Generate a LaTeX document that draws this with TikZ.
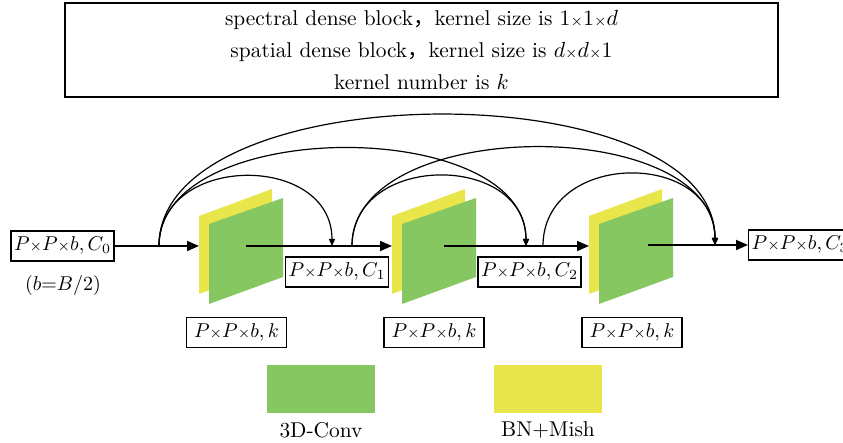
\documentclass[tikz,border=0pt]{standalone}
\usepackage{amsmath}
\usepackage{fontspec}
\newfontfamily\cjk{Noto Sans CJK SC}
\usetikzlibrary{arrows.meta, positioning}
\definecolor{convgreen}{RGB}{134,199,98}
\definecolor{bnyellow}{RGB}{233,230,75}
\newcommand{\bytimes}{{\scriptstyle\times}}

\begin{document}
\begin{tikzpicture}[x=0.5pt, y=-0.5pt, >={Triangle[length=6pt,width=5pt]},
			font=\fontsize{10.7}{12.8}\selectfont,
			sizebox/.style={draw, line width=0.7pt, inner sep=1.5pt, minimum width=50pt, minimum height=15pt, font=\fontsize{10}{12}\selectfont},
			flow/.style={->, line width=0.9pt},
			dense/.style={-{Triangle[length=3.5pt,width=3pt]}, line width=0.6pt, out=90, in=90},
			conv/.style={fill=convgreen},
			bnmish/.style={fill=bnyellow}]

		\useasboundingbox (0,0) rectangle (843,443);

		%% Nodes
		\begin{scope}
			\node (kernels) at (421.5,50) [draw, line width=0.7pt, minimum width=356.5pt, minimum height=47pt, align=center]
				{spectral dense block{\cjk ，}kernel size is $1\bytimes1\bytimes d$\\[3pt]
				spatial dense block{\cjk ，}kernel size is $d\bytimes d\bytimes1$\\[3pt]
				kernel number is $k$};
		\end{scope}

		% Blocks
		\begin{scope}
			\fill[bnmish] (199,216) -- (272,189) -- (272,267) -- (199,294) -- cycle;
			\fill[conv] (209,224) -- (283,198) -- (283,277) -- (209,304) -- cycle;
			\fill[bnmish] (392,216) -- (465,189) -- (465,267) -- (392,294) -- cycle;
			\fill[conv] (402,224) -- (476,198) -- (476,277) -- (402,304) -- cycle;
			\fill[bnmish] (589,216) -- (662,189) -- (662,267) -- (589,294) -- cycle;
			\fill[conv] (599,224) -- (673,198) -- (673,277) -- (599,304) -- cycle;

			\coordinate (b1) at (199,246);
			\coordinate (b2) at (392,246);
			\coordinate (b3) at (589,246);
			\coordinate (c1) at (246,246);
			\coordinate (c2) at (444,246);
			\coordinate (c3) at (648,245);
		\end{scope}

		% Feature maps
		\begin{scope}
			\node (in0) at (62.5,246) [sizebox] {$P\bytimes P\bytimes b, C_0$};
			\node (bnote) at (63,286) [font=\fontsize{10}{12}\selectfont] {$(b{=}B/2)$};
			\node (in1) at (337,272) [sizebox] {$P\bytimes P\bytimes b, C_1$};
			\node (in2) at (529.5,272) [sizebox] {$P\bytimes P\bytimes b, C_2$};
			\node (out3) at (748,245) [sizebox, anchor=west] {$P\bytimes P\bytimes b, C_3$};

			\node (k1) at (236.5,332.5) [sizebox] {$P\bytimes P\bytimes b, k$};
			\node (k2) at (434,332.5) [sizebox] {$P\bytimes P\bytimes b, k$};
			\node (k3) at (632,332.5) [sizebox] {$P\bytimes P\bytimes b, k$};
		\end{scope}

		% Legend
		\begin{scope}
			\node (convkey) at (321,389) [conv, minimum width=54pt, minimum height=24pt] {};
			\node (convlabel) at (321,430) {3D-Conv};
			\node (bnkey) at (548,389) [bnmish, minimum width=54pt, minimum height=24pt] {};
			\node (bnlabel) at (548,430) {BN+Mish};
		\end{scope}

		% Taps on the main line
		\coordinate (s0) at (159,246);
		\coordinate (e1) at (332,246);
		\coordinate (s1) at (352,246);
		\coordinate (e2) at (526,246);
		\coordinate (s2) at (543,246);
		\coordinate (e3) at (715,245);

		%% Edges
		\draw[flow] (in0) -- (b1);
		\draw[flow] (c1) -- (b2);
		\draw[flow] (c2) -- (b3);
		\draw[flow] (c3) -- (out3);

		\path (s0) edge[dense, looseness=1.38] (e1);
		\path (s0) edge[dense, looseness=0.91] (e2);
		\path (s0) edge[dense, looseness=0.80] (e3);
		\path (s1) edge[dense, looseness=1.38] (e2);
		\path (s1) edge[dense, looseness=0.92] (e3);
		\path (s2) edge[dense, looseness=1.42] (e3);
	\end{tikzpicture}
\end{document}
